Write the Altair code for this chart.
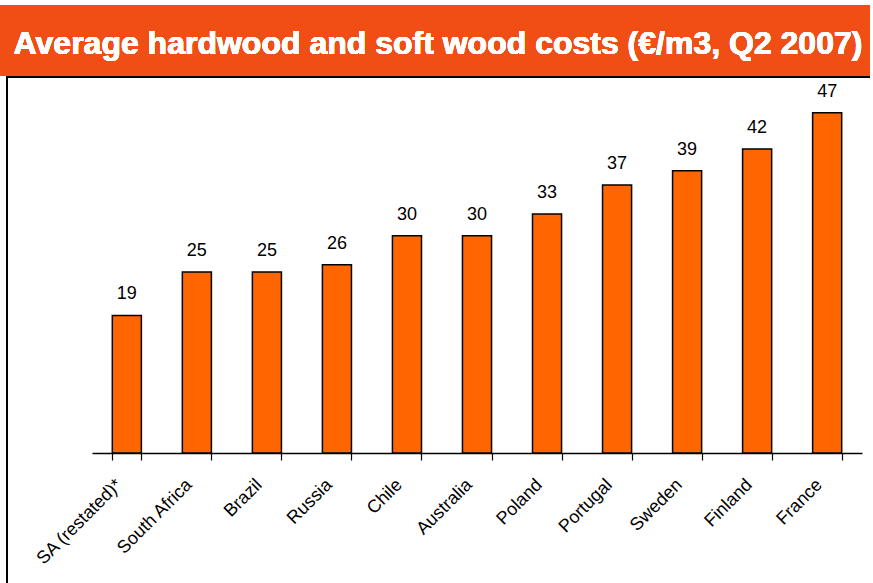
import altair as alt
import pandas as pd

countries = ["SA (restated)*", "South Africa", "Brazil", "Russia", "Chile", "Australia",
             "Poland", "Portugal", "Sweden", "Finland", "France"]
costs = [19, 25, 25, 26, 30, 30, 33, 37, 39, 42, 47]
title_text = "Average hardwood and soft wood costs (€/m3, Q2 2007)"

df = pd.DataFrame({"country": countries, "cost": costs})

W, H = 770, 362
PL, PT = 92, 91

x_enc = alt.X("country:N", sort=countries, title=None,
              scale=alt.Scale(paddingInner=0.585, paddingOuter=0.29),
              axis=alt.Axis(labelAngle=-45, labelFontSize=18, labelFont="Liberation Sans",
                            labelColor="black", domainColor="black", domainWidth=1.5,
                            tickColor="black", tickSize=7, tickWidth=1.2, tickBand="extent",
                            labelPadding=22, labelOffset=-8, labelAlign="right",
                            labelBaseline="middle"))
y_enc = alt.Y("cost:Q", title=None, scale=alt.Scale(domain=[0, 50]), axis=None)

bars = alt.Chart(df).mark_bar(color="#FF6600", stroke="black", strokeWidth=1.5).encode(
    x=x_enc, y=y_enc)
labels = alt.Chart(df).mark_text(dy=-21, fontSize=18, font="Liberation Sans", color="black").encode(
    x=x_enc, y=y_enc, text="cost:Q")

banner = alt.Chart(df).mark_rect(color="#F04E14", clip=False).encode(
    x=alt.value(-PL), x2=alt.value(870 - PL), y=alt.value(5 - PT), y2=alt.value(76 - PT))
title = alt.Chart(df).mark_text(text=title_text, fontSize=32, font="Liberation Sans",
                                fontWeight="bold", color="white", align="center",
                                baseline="middle", clip=False).encode(
    x=alt.value(438 - PL), y=alt.value(44 - PT))
top_line = alt.Chart(df).mark_rule(color="black", strokeWidth=1.5, clip=False).encode(
    x=alt.value(6 - PL), x2=alt.value(870 - PL), y=alt.value(77 - PT))
left_line = alt.Chart(df).mark_rule(color="black", strokeWidth=1.5, clip=False).encode(
    x=alt.value(7 - PL), y=alt.value(77 - PT), y2=alt.value(583 - PT))

chart = alt.layer(banner, title, top_line, left_line, bars, labels).properties(
    width=W, height=H,
    padding={"left": PL, "top": PT, "right": 873 - PL - W, "bottom": 583 - PT - H},
    autosize=alt.AutoSizeParams(type="none"),
    background="white",
).configure_view(stroke=None)

chart.save("out.html", embed_options={"renderer": "svg", "actions": False})
